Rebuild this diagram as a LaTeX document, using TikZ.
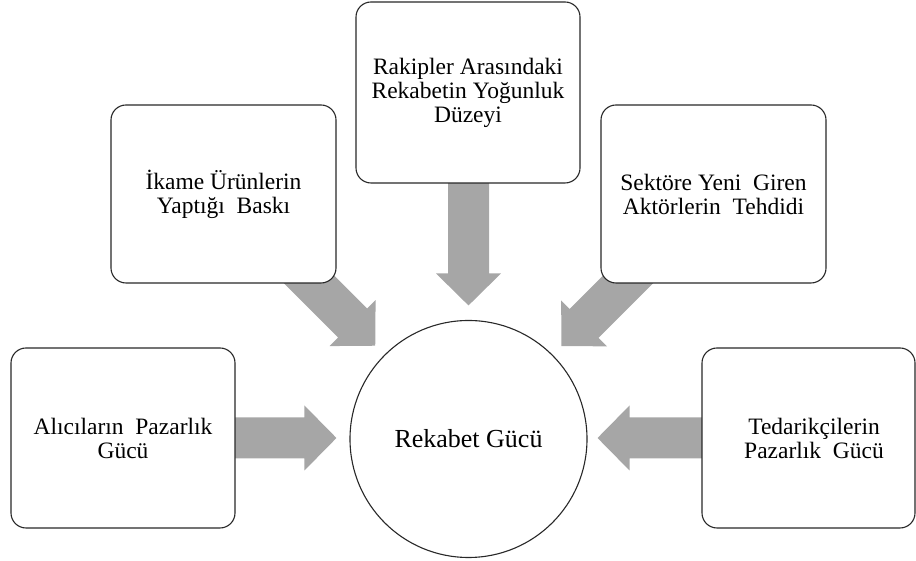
\documentclass[tikz,border=0pt]{standalone}
\usepackage{fontspec}
\setmainfont{Liberation Serif}
\usetikzlibrary{calc}
\definecolor{arrowgray}{RGB}{166,166,166}
\definecolor{edgeblack}{RGB}{40,40,40}
\newcommand{\wsp}{\hspace{0.5em}}
% block arrow from #1 (start) to #2 (tip)
\newcommand{\blockarrow}[2]{%
  \fill[arrowgray] let \p1=($(#2)-(#1)$), \n1={atan2(\y1,\x1)} in
    ($(#1)+(\n1+90:20.5pt)$)
    -- ($(#2)+(\n1+180:32pt)+(\n1+90:20.5pt)$)
    -- ($(#2)+(\n1+180:32pt)+(\n1+90:32.5pt)$)
    -- (#2)
    -- ($(#2)+(\n1+180:32pt)+(\n1-90:32.5pt)$)
    -- ($(#2)+(\n1+180:32pt)+(\n1-90:20.5pt)$)
    -- ($(#1)+(\n1-90:20.5pt)$) -- cycle;}
\pgfdeclarelayer{bg}
\pgfsetlayers{bg,main}
\begin{document}
\begin{tikzpicture}[x=1pt,y=1pt,
  box/.style={draw=edgeblack, line width=1.1pt, rounded corners=15pt, fill=white,
    align=center, inner sep=0pt, font=\fontsize{23.5}{24}\selectfont},
  hub/.style={circle, draw=edgeblack, line width=1.1pt, fill=white,
    minimum size=237pt, inner sep=0pt, font=\fontsize{26}{28}\selectfont}]
\useasboundingbox (0,0) rectangle (916,561);
% hub
\node[hub] (c) at (468.5,122) {Rekabet Gücü};
% boxes
\node[box, minimum width=224pt, minimum height=181pt] (t) at (468,468.5)
  {Rakipler Arasındaki\\Rekabetin Yoğunluk\\Düzeyi};
\node[box, minimum width=225pt, minimum height=178pt] (ul) at (223.5,367)
  {İkame Ürünlerin\\Yaptığı\wsp Baskı};
\node[box, minimum width=225pt, minimum height=178pt] (ur) at (713.5,367)
  {Sektöre Yeni\wsp Giren\\Aktörlerin\wsp Tehdidi};
\node[box, minimum width=224pt, minimum height=180pt] (l) at (123,123)
  {Alıcıların\wsp Pazarlık\\Gücü};
\node[box, minimum width=213pt, minimum height=180pt] (r) at (808.5,123)
  {\hspace*{11pt}Tedarikçilerin\\\hspace*{11pt}Pazarlık\wsp Gücü};
% arrow tips
\coordinate (tipT) at ($(c.north)+(0,14.5)$);
\coordinate (tipL) at ($(l.center -| c.west)+(-13,0)$);
\coordinate (tipR) at ($(r.center -| c.east)+(10,0)$);
\coordinate (tipUL) at ($(c.center)+(135:131.9)$);
\coordinate (tipUR) at ($(c.center)+(45:131.5)$);
\coordinate (srcUL) at ($(c.center)+(135:270)$);
\coordinate (srcUR) at ($(c.center)+(45:270)$);
\coordinate (srcT) at (c.north |- t.center);
% arrows
\begin{pgfonlayer}{bg}
\blockarrow{srcT}{tipT}
\blockarrow{l.center}{tipL}
\blockarrow{r.center}{tipR}
\blockarrow{srcUL}{tipUL}
\blockarrow{srcUR}{tipUR}
\end{pgfonlayer}
\end{tikzpicture}
\end{document}
